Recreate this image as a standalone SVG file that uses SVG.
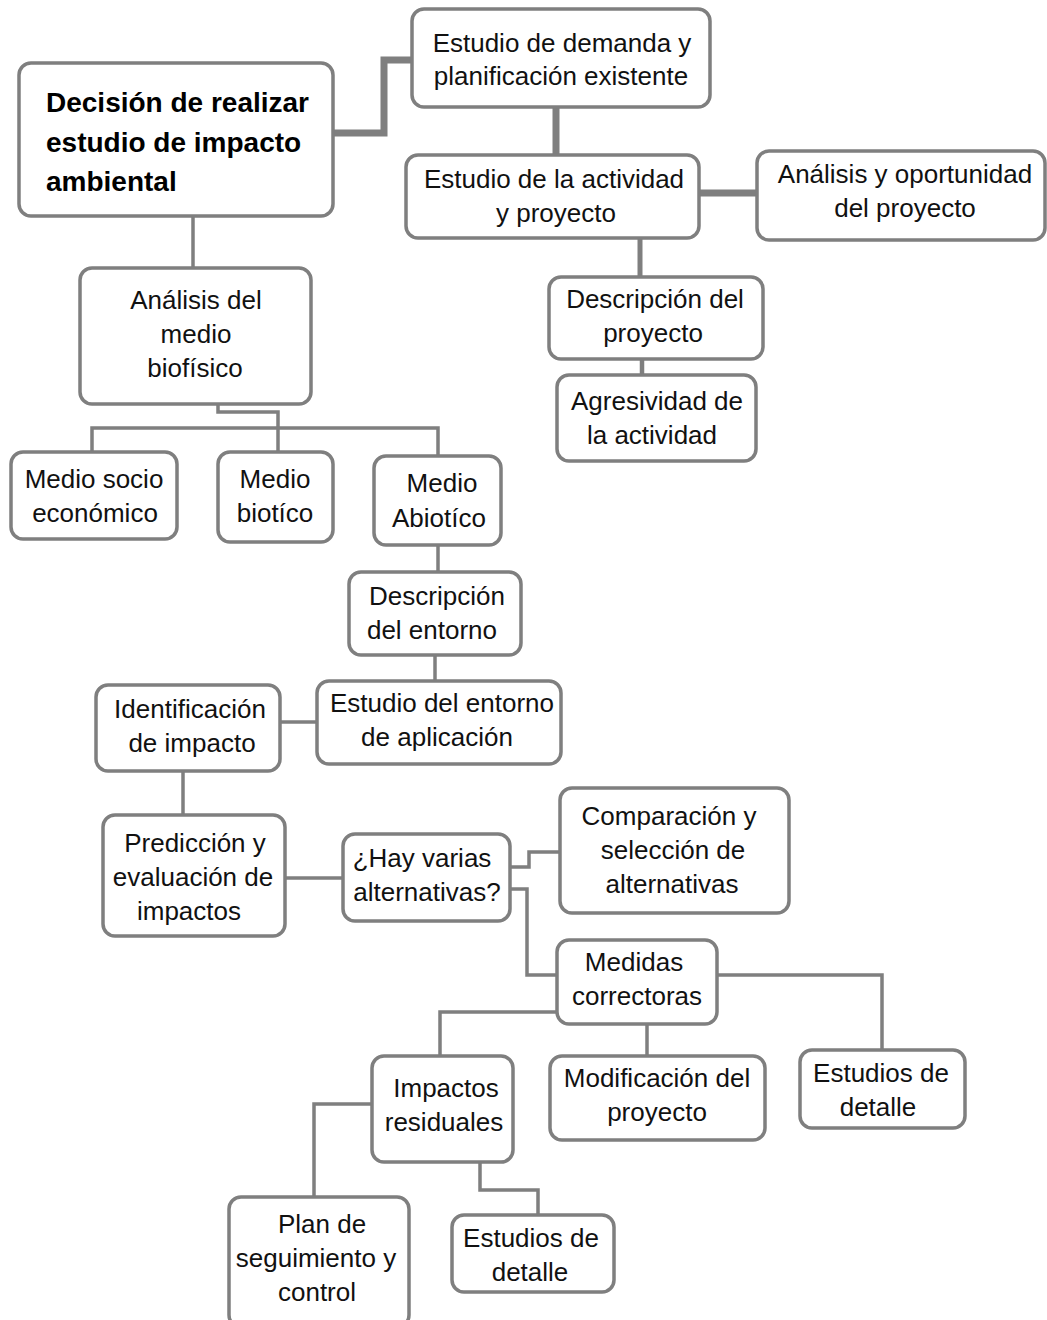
<svg xmlns="http://www.w3.org/2000/svg" width="1047" height="1320" viewBox="0 0 1047 1320">
<style>
.box{fill:#fff;stroke:#7f7f7f;stroke-width:3.5}
.t{font-family:"Liberation Sans",Arial,sans-serif;font-size:26px;fill:#111;text-anchor:middle}
.b{font-family:"Liberation Sans",Arial,sans-serif;font-size:28px;font-weight:bold;fill:#000}
.c{fill:none;stroke:#7f7f7f;stroke-width:3.5;stroke-linejoin:miter}
.c2{fill:none;stroke:#7f7f7f;stroke-width:7}
</style>
<rect width="1047" height="1320" fill="#fff"/>
<g id="connectors">
<path class="c2" d="M333 133H384V60H412"/>
<path class="c2" d="M556 107V155"/>
<path class="c2" d="M699 193H757"/>
<path class="c" d="M640 238V277" style="stroke-width:5"/>
<path class="c" d="M642 359V375" style="stroke-width:4.5"/>
<path class="c" d="M193 216V268"/>
<path class="c" d="M218 404V412H278V428"/>
<path class="c" d="M92 452V428H438V456"/>
<path class="c" d="M278 428V452"/>
<path class="c" d="M438 545V572"/>
<path class="c" d="M435 655V681"/>
<path class="c" d="M280 722H317"/>
<path class="c" d="M183 771V815"/>
<path class="c" d="M285 878H343"/>
<path class="c" d="M510 867H529V852H560"/>
<path class="c" d="M510 889H527V975H557"/>
<path class="c" d="M717 975H882V1050"/>
<path class="c" d="M557 1012H440V1056"/>
<path class="c" d="M647 1024V1056"/>
<path class="c" d="M372 1104H314V1197"/>
<path class="c" d="M480 1162V1190H538V1215"/>
</g>
<g id="n1"><rect class="box" x="19" y="63" width="314" height="153" rx="12"/>
<text class="b" x="46" y="112">Decisión de realizar</text><text class="b" x="46" y="152">estudio de impacto</text><text class="b" x="46" y="191">ambiental</text></g>
<g id="n2"><rect class="box" x="412" y="9" width="298" height="98" rx="12"/>
<text class="t" x="562" y="52">Estudio de demanda y</text><text class="t" x="561" y="85">planificación existente</text></g>
<g id="n3"><rect class="box" x="406" y="155" width="293" height="83" rx="12"/>
<text class="t" x="554" y="188">Estudio de la actividad</text><text class="t" x="556" y="222">y proyecto</text></g>
<g id="n4"><rect class="box" x="757" y="151" width="288" height="89" rx="12"/>
<text class="t" x="905" y="183">Análisis y oportunidad</text><text class="t" x="905" y="217">del proyecto</text></g>
<g id="n5"><rect class="box" x="549" y="277" width="214" height="82" rx="12"/>
<text class="t" x="655" y="308">Descripción del</text><text class="t" x="653" y="342">proyecto</text></g>
<g id="n6"><rect class="box" x="557" y="375" width="199" height="86" rx="12"/>
<text class="t" x="657" y="410">Agresividad de</text><text class="t" x="652" y="444">la actividad</text></g>
<g id="n7"><rect class="box" x="80" y="268" width="231" height="136" rx="12"/>
<text class="t" x="196" y="309">Análisis del</text><text class="t" x="196" y="343">medio</text><text class="t" x="195" y="377">biofísico</text></g>
<g id="n8"><rect class="box" x="11" y="452" width="166" height="87" rx="12"/>
<text class="t" x="94" y="488">Medio socio</text><text class="t" x="95" y="522">económico</text></g>
<g id="n9"><rect class="box" x="218" y="452" width="115" height="90" rx="12"/>
<text class="t" x="275" y="488">Medio</text><text class="t" x="275" y="522">biotíco</text></g>
<g id="n10"><rect class="box" x="374" y="456" width="127" height="89" rx="12"/>
<text class="t" x="442" y="492">Medio</text><text class="t" x="439" y="527">Abiotíco</text></g>
<g id="n11"><rect class="box" x="349" y="572" width="172" height="83" rx="12"/>
<text class="t" x="437" y="605">Descripción</text><text class="t" x="432" y="639">del entorno</text></g>
<g id="n12"><rect class="box" x="317" y="681" width="244" height="83" rx="12"/>
<text class="t" x="442" y="712">Estudio del entorno</text><text class="t" x="437" y="746">de aplicación</text></g>
<g id="n13"><rect class="box" x="96" y="685" width="184" height="86" rx="12"/>
<text class="t" x="190" y="718">Identificación</text><text class="t" x="192" y="752">de impacto</text></g>
<g id="n14"><rect class="box" x="103" y="815" width="182" height="121" rx="12"/>
<text class="t" x="195" y="852">Predicción y</text><text class="t" x="193" y="886">evaluación de</text><text class="t" x="189" y="920">impactos</text></g>
<g id="n15"><rect class="box" x="343" y="834" width="167" height="87" rx="12"/>
<text class="t" x="422" y="867">¿Hay varias</text><text class="t" x="427" y="901">alternativas?</text></g>
<g id="n16"><rect class="box" x="560" y="788" width="229" height="125" rx="12"/>
<text class="t" x="669" y="825">Comparación y</text><text class="t" x="673" y="859">selección de</text><text class="t" x="672" y="893">alternativas</text></g>
<g id="n17"><rect class="box" x="557" y="940" width="160" height="84" rx="12"/>
<text class="t" x="634" y="971">Medidas</text><text class="t" x="637" y="1005">correctoras</text></g>
<g id="n18"><rect class="box" x="372" y="1056" width="141" height="106" rx="12"/>
<text class="t" x="446" y="1097">Impactos</text><text class="t" x="444" y="1131">residuales</text></g>
<g id="n19"><rect class="box" x="550" y="1056" width="215" height="84" rx="12"/>
<text class="t" x="657" y="1087">Modificación del</text><text class="t" x="657" y="1121">proyecto</text></g>
<g id="n20"><rect class="box" x="800" y="1050" width="165" height="78" rx="12"/>
<text class="t" x="881" y="1082">Estudios de</text><text class="t" x="878" y="1116">detalle</text></g>
<g id="n21"><rect class="box" x="229" y="1197" width="180" height="130" rx="12"/>
<text class="t" x="322" y="1233">Plan de</text><text class="t" x="316" y="1267">seguimiento y</text><text class="t" x="317" y="1301">control</text></g>
<g id="n22"><rect class="box" x="452" y="1215" width="162" height="77" rx="12"/>
<text class="t" x="531" y="1247">Estudios de</text><text class="t" x="530" y="1281">detalle</text></g>
</svg>
